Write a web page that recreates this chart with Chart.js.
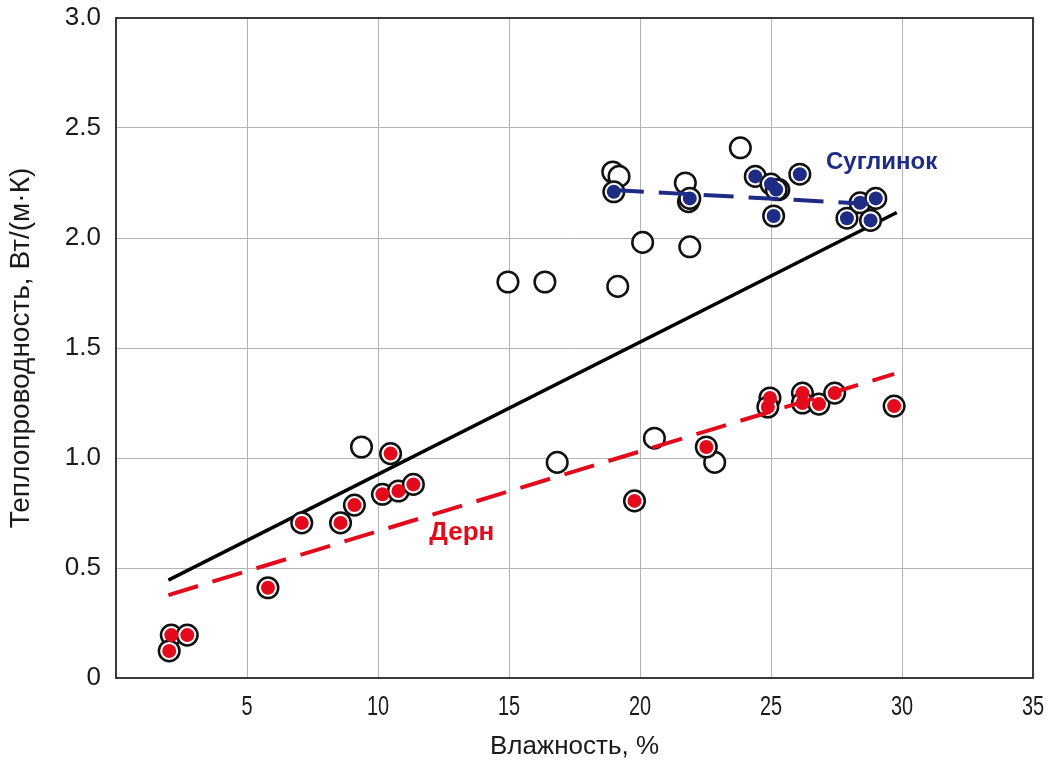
<!DOCTYPE html>
<html>
<head>
<meta charset="utf-8">
<script src="https://cdn.jsdelivr.net/npm/chart.js@4.4.0/dist/chart.umd.min.js"></script>
<style>
  html, body { margin: 0; padding: 0; background: #fff; }
  #wrap { width: 1053px; height: 762px; }
</style>
</head>
<body>
<div id="wrap"><canvas id="chart"></canvas></div>
<script>
// open circles - all samples
var openX = [9.37, 14.96, 16.37, 16.84, 19.15, 20.1, 20.55, 21.9, 22.85, 18.96, 19.2, 21.73, 21.85, 23.83, 25.3];
var openY = [1.05, 1.80, 1.80, 0.98, 1.78, 1.98, 1.09, 1.96, 0.98, 2.30, 2.28, 2.25, 2.165, 2.41, 2.22];

// суглинок (blue)
var loamX = [19.0, 21.9, 24.4, 25.0, 25.2, 25.1, 26.1, 27.9, 28.4, 29.0, 28.8];
var loamY = [2.21, 2.18, 2.28, 2.245, 2.22, 2.10, 2.29, 2.09, 2.16, 2.18, 2.08];

// дерн (red)
var turfX = [2.11, 2.72, 2.03, 5.8, 7.09, 8.57, 9.1, 10.17, 10.48, 10.78, 11.35, 19.79, 22.53, 24.96, 24.88, 26.2, 26.2, 26.83, 27.43, 29.7];
var turfY = [0.195, 0.195, 0.123, 0.41, 0.705, 0.705, 0.786, 0.835, 1.02, 0.85, 0.88, 0.805, 1.05, 1.273, 1.232, 1.295, 1.25, 1.245, 1.295, 1.236];

// trend lines (end points)
var allLineX = [2.0, 29.8];
var allLineY = [0.445, 2.116];
var turfLineX = [2.0, 29.7];
var turfLineY = [0.377, 1.382];
var loamLineX = [19.0, 29.0];
var loamLineY = [2.218, 2.153];

var xTicks = [0, 5, 10, 15, 20, 25, 30, 35];
var yTicks = [0, 0.5, 1.0, 1.5, 2.0, 2.5, 3.0];

var RED = '#e30a1c';
var BLUE = '#1f2c86';
var TXT = '#1a1a1a';

function pts(xs, ys) {
  return xs.map(function(x, i) { return {x: x, y: ys[i]}; });
}

// frame around the plot area, group labels, narrow x tick labels
var framePlugin = {
  id: 'frame',
  beforeDatasetsDraw: function(chart) {
    var a = chart.chartArea, c = chart.ctx;
    c.save();
    c.strokeStyle = '#3a3a3a';
    c.lineWidth = 2;
    c.strokeRect(a.left, a.top, a.right - a.left, a.bottom - a.top);
    c.restore();
  },
  afterDatasetsDraw: function(chart) {
    var c = chart.ctx, sx = chart.scales.x, sy = chart.scales.y;
    c.save();
    c.textBaseline = 'middle';
    c.textAlign = 'left';
    c.font = 'bold 24px "Liberation Sans", Arial, sans-serif';
    c.fillStyle = BLUE;
    c.fillText('Суглинок', sx.getPixelForValue(27.1), sy.getPixelForValue(2.345));
    c.font = 'bold 26px "Liberation Sans", Arial, sans-serif';
    c.fillStyle = RED;
    c.fillText('Дерн', sx.getPixelForValue(11.96), sy.getPixelForValue(0.66));
    c.restore();
  },
  afterDraw: function(chart) {
    var c = chart.ctx, sx = chart.scales.x;
    var ty = chart.chartArea.bottom + 29;
    c.save();
    c.font = '21px "Liberation Sans", Arial, sans-serif';
    c.fillStyle = TXT;
    c.textAlign = 'center';
    c.textBaseline = 'middle';
    xTicks.forEach(function(v) {
      if (v === 0) return;
      c.save();
      c.translate(sx.getPixelForValue(v), ty);
      c.scale(0.95, 1.35);
      c.fillText(String(v), 0, 0);
      c.restore();
    });
    c.restore();
  }
};

new Chart(document.getElementById('chart'), {
  type: 'scatter',
  data: {
    datasets: [
      {
        label: 'all',
        type: 'line',
        data: pts(allLineX, allLineY),
        borderColor: '#000',
        borderWidth: 3.5,
        pointRadius: 0,
        order: 10
      },
      {
        label: 'open',
        data: pts(openX, openY),
        backgroundColor: '#fff',
        borderColor: '#111',
        borderWidth: 2.5,
        pointRadius: 10.3,
        order: 9
      },
      {
        label: 'loam ring',
        data: pts(loamX, loamY),
        backgroundColor: '#fff',
        borderColor: '#111',
        borderWidth: 2.5,
        pointRadius: 10.3,
        order: 8
      },
      {
        label: 'turf ring',
        data: pts(turfX, turfY),
        backgroundColor: '#fff',
        borderColor: '#111',
        borderWidth: 2.5,
        pointRadius: 10.3,
        order: 8
      },
      {
        label: 'loam',
        data: pts(loamX, loamY),
        backgroundColor: BLUE,
        borderWidth: 0,
        pointRadius: 7,
        order: 7
      },
      {
        label: 'turf',
        data: pts(turfX, turfY),
        backgroundColor: RED,
        borderWidth: 0,
        pointRadius: 7,
        order: 7
      },
      {
        label: 'loam trend',
        type: 'line',
        data: pts(loamLineX, loamLineY),
        borderColor: BLUE,
        borderWidth: 4,
        borderDash: [30, 15],
        pointRadius: 0,
        order: 1
      },
      {
        label: 'turf trend',
        type: 'line',
        data: pts(turfLineX, turfLineY),
        borderColor: RED,
        borderWidth: 4,
        borderDash: [31, 15],
        pointRadius: 0,
        order: 1
      }
    ]
  },
  options: {
    responsive: true,
    maintainAspectRatio: false,
    animation: false,
    layout: { padding: { top: 18, right: 20, left: 0, bottom: 0 } },
    plugins: {
      legend: { display: false },
      tooltip: { enabled: false }
    },
    scales: {
      x: {
        type: 'linear',
        min: 0,
        max: 35,
        afterBuildTicks: function(s) { s.ticks = xTicks.map(function(v) { return {value: v}; }); },
        afterFit: function(s) { s.height = 84; s.paddingLeft = 0; s.paddingRight = 0; },
        grid: { color: '#b4b4b4', lineWidth: 1, drawTicks: false },
        border: { display: false },
        ticks: { display: false },
        title: {
          display: true,
          text: 'Влажность, %',
          color: TXT,
          padding: { top: 0, bottom: 0 },
          font: { family: '"Liberation Sans", Arial', size: 26 }
        }
      },
      y: {
        type: 'linear',
        min: 0,
        max: 3,
        afterBuildTicks: function(s) { s.ticks = yTicks.map(function(v) { return {value: v}; }); },
        afterFit: function(s) { s.width = 116; s.paddingTop = 0; s.paddingBottom = 0; },
        grid: { color: '#b4b4b4', lineWidth: 1, drawTicks: false },
        border: { display: false },
        ticks: {
          padding: 15,
          color: TXT,
          font: { family: '"Liberation Sans", Arial', size: 26 },
          callback: function(v) { return v === 0 ? '0' : v.toFixed(1); }
        },
        title: {
          display: true,
          text: 'Теплопроводность, Вт/(м·К)',
          color: TXT,
          padding: { top: 4, bottom: 0 },
          font: { family: '"Liberation Sans", Arial', size: 28 }
        }
      }
    }
  },
  plugins: [framePlugin]
});
</script>
</body>
</html>
